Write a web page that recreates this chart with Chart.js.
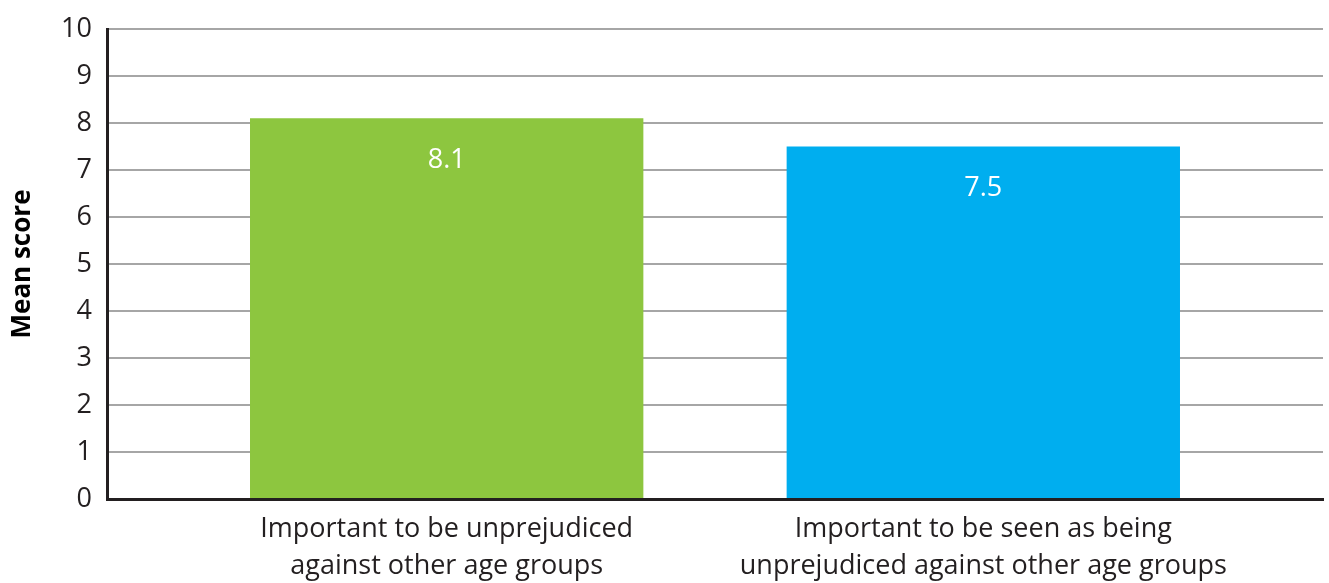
<!DOCTYPE html>
<html lang="en">
<head>
    <meta charset="UTF-8">
    <title>Mean score</title>
    <script src="https://cdn.jsdelivr.net/npm/chart.js"></script>
    <style>
        html, body { margin: 0; padding: 0; background: #fff; }
        #wrap { width: 1329px; height: 583px; }
    </style>
</head>
<body>
    <div id="wrap"><canvas id="scoreChart"></canvas></div>

    <script>
        // data
        const categories = [
            ['Important to be unprejudiced', 'against other age groups'],
            ['Important to be seen as being', 'unprejudiced against other age groups']
        ];
        const meanScores = [8.1, 7.5];
        const barColors = ['#8DC63F', '#00AEEF'];
        const yTicks = [0, 1, 2, 3, 4, 5, 6, 7, 8, 9, 10];

        const FONT = "'Open Sans', 'Noto Sans', sans-serif";

        // white value label near the top of each bar
        const valueLabels = {
            id: 'valueLabels',
            afterDatasetsDraw(chart) {
                const ctx = chart.ctx;
                const meta = chart.getDatasetMeta(0);
                ctx.save();
                ctx.fillStyle = '#fff';
                ctx.font = '27px ' + FONT;
                ctx.textAlign = 'center';
                ctx.textBaseline = 'middle';
                meta.data.forEach((bar, i) => {
                    ctx.fillText(meanScores[i].toFixed(1), bar.x, bar.y + 42);
                });
                ctx.restore();
            }
        };

        const ctx = document.getElementById('scoreChart').getContext('2d');
        new Chart(ctx, {
            type: 'bar',
            data: {
                datasets: [{
                    data: meanScores.map((v, i) => ({ x: i, y: v })),
                    backgroundColor: barColors,
                    barPercentage: 0.733,
                    categoryPercentage: 1
                }]
            },
            options: {
                responsive: true,
                maintainAspectRatio: false,
                animation: false,
                layout: { padding: { top: 29, right: 6, left: 0, bottom: 0 } },
                plugins: {
                    legend: { display: false },
                    tooltip: { enabled: false }
                },
                scales: {
                    x: {
                        type: 'linear',
                        offset: false,
                        bounds: 'data',
                        min: -0.633,
                        max: 1.633,
                        afterBuildTicks: s => { s.ticks = categories.map((c, i) => ({ value: i })); },
                        afterFit: s => { s.height = 84; },
                        grid: { display: false },
                        border: { display: true, color: '#231f20', width: 3 },
                        ticks: {
                            autoSkip: false,
                            maxRotation: 0,
                            padding: 3,
                            color: '#231f20',
                            font: { family: FONT, size: 27, lineHeight: 1.4 },
                            callback: v => categories[v] || ''
                        }
                    },
                    y: {
                        min: 0,
                        max: 10,
                        afterBuildTicks: s => { s.ticks = yTicks.map(v => ({ value: v })); },
                        afterFit: s => { s.width = 107; },
                        grid: { color: '#a6a6a6', lineWidth: 2, drawTicks: false },
                        border: { display: true, color: '#231f20', width: 3 },
                        ticks: {
                            padding: 15,
                            color: '#231f20',
                            font: { family: FONT, size: 27, lineHeight: 1 }
                        },
                        title: {
                            display: true,
                            text: 'Mean score',
                            color: '#000',
                            padding: { top: 7, bottom: 0 },
                            font: { family: FONT, size: 26, weight: 'bold' }
                        }
                    }
                }
            },
            plugins: [valueLabels]
        });
    </script>
</body>
</html>
